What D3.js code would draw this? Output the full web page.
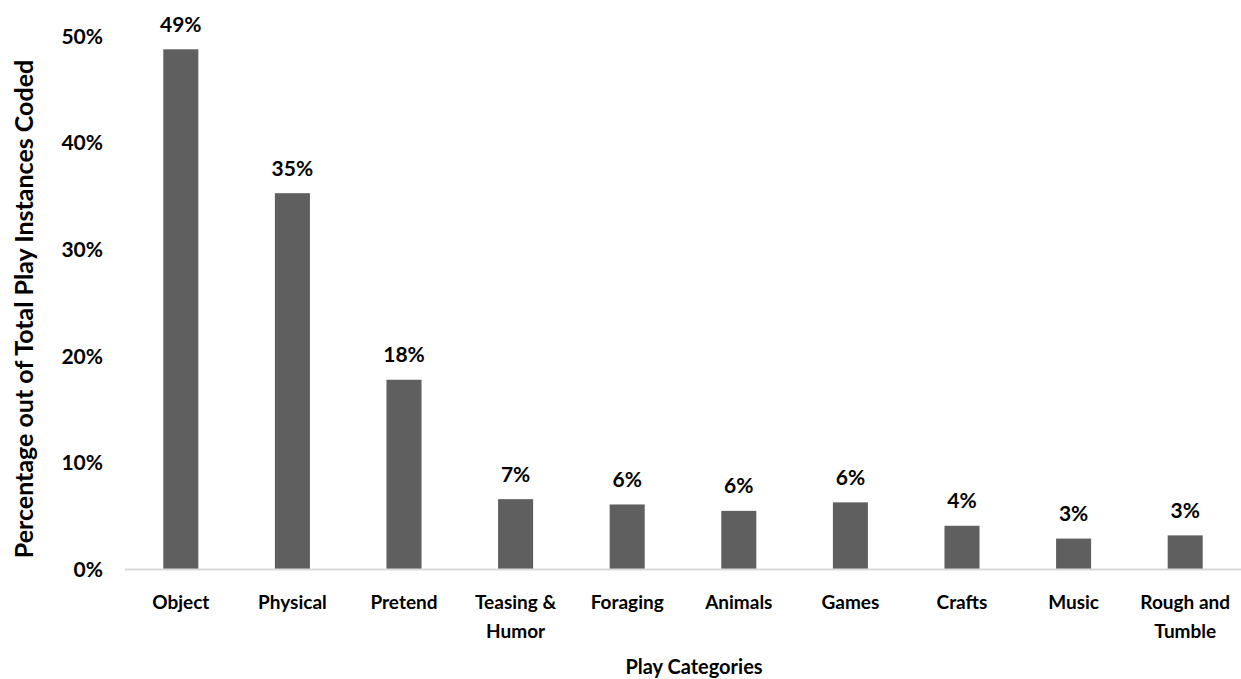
<!DOCTYPE html>
<html>
<head>
<meta charset="utf-8">
<script src="https://cdn.jsdelivr.net/npm/d3@7"></script>
<style>
  html, body { margin: 0; padding: 0; background: #fff; }
  svg text { font-family: Lato, "Open Sans", sans-serif; font-weight: 700; fill: #000; }
</style>
</head>
<body>
<svg id="chart" width="1241" height="679"></svg>
<script>
// Share of coded play instances by play category
const categories = ["Object", "Physical", "Pretend", "Teasing & Humor", "Foraging",
                    "Animals", "Games", "Crafts", "Music", "Rough and Tumble"];
const percentages = [48.8, 35.3, 17.8, 6.6, 6.1, 5.5, 6.3, 4.1, 2.9, 3.2];
const yTicks = [0, 10, 20, 30, 40, 50];

const svg = d3.select("#chart");
const margin = { left: 125, right: 0, top: 36.5, bottom: 110 };
const W = 1241, H = 679;
const baseY = 569.5;

const x = d3.scaleBand()
  .domain(categories)
  .range([margin.left, W - margin.right])
  .paddingInner(0.686)
  .paddingOuter(0.343);

const y = d3.scaleLinear()
  .domain([0, 50])
  .range([baseY, margin.top]);

const fmt = d => Math.round(d) + "%";

// Y tick labels (no axis line, no gridlines)
const yAxis = svg.append("g")
  .attr("transform", `translate(${margin.left - 22},0)`)
  .call(d3.axisLeft(y).tickValues(yTicks).tickFormat(fmt).tickSize(0).tickPadding(0));
yAxis.select(".domain").remove();
yAxis.selectAll("text")
  .attr("font-size", 21)
  .attr("font-family", "Lato, 'Open Sans', sans-serif")
  .attr("font-weight", 700)
  .attr("fill", "#000");

// Bars
svg.append("g").selectAll("rect")
  .data(percentages)
  .join("rect")
  .attr("x", (d, i) => x(categories[i]))
  .attr("y", d => y(d))
  .attr("width", x.bandwidth())
  .attr("height", d => y(0) - y(d))
  .attr("fill", "#5f5f5f");

// Value labels above bars
svg.append("g").selectAll("text")
  .data(percentages)
  .join("text")
  .attr("x", (d, i) => x(categories[i]) + x.bandwidth() / 2)
  .attr("y", d => y(d) - 17.5)
  .attr("text-anchor", "middle")
  .attr("font-size", 21)
  .text(fmt);

// X axis baseline
svg.append("line")
  .attr("x1", margin.left).attr("x2", W - margin.right)
  .attr("y1", baseY).attr("y2", baseY)
  .attr("stroke", "#d9d9d9")
  .attr("stroke-width", 2);

// X category labels, wrapped to the band step
const xAxis = svg.append("g")
  .attr("transform", `translate(0,${baseY})`)
  .call(d3.axisBottom(x).tickSize(0).tickPadding(0));
xAxis.select(".domain").remove();
xAxis.selectAll("text")
  .attr("font-size", 19)
  .attr("font-family", "Lato, 'Open Sans', sans-serif")
  .attr("font-weight", 700)
  .attr("fill", "#000")
  .attr("y", 39)
  .attr("dy", 0)
  .each(function (d) {
    const t = d3.select(this);
    const words = d.split(" ");
    const maxW = x.step() - 4;
    t.text(null);
    let line = [];
    let tspan = t.append("tspan").attr("x", 0).attr("dy", 0);
    for (const w of words) {
      line.push(w);
      tspan.text(line.join(" "));
      if (tspan.node().getComputedTextLength() > maxW && line.length > 1) {
        line.pop();
        tspan.text(line.join(" "));
        line = [w];
        tspan = t.append("tspan").attr("x", 0).attr("dy", 29.5).text(w);
      }
    }
  });

// Axis titles
svg.append("text")
  .attr("x", 694)
  .attr("y", 674)
  .attr("text-anchor", "middle")
  .attr("font-size", 20)
  .text("Play Categories");

svg.append("text")
  .attr("transform", "translate(33,309) rotate(-90)")
  .attr("text-anchor", "middle")
  .attr("font-size", 25)
  .text("Percentage out of Total Play Instances Coded");
</script>
</body>
</html>
